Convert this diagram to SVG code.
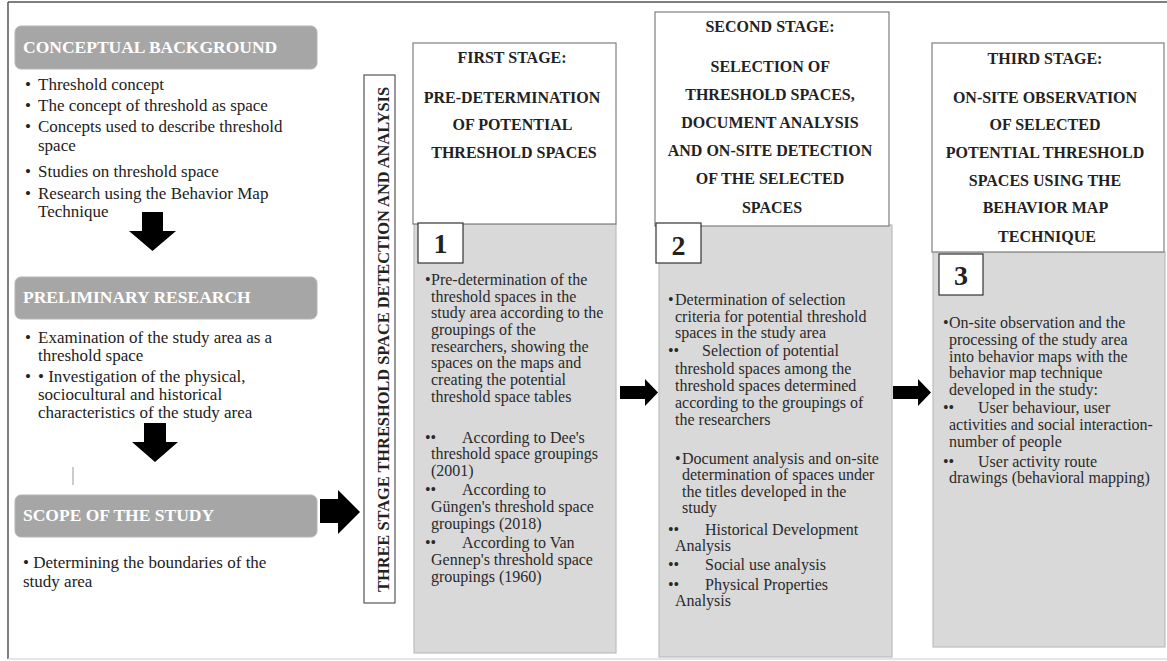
<svg xmlns="http://www.w3.org/2000/svg" width="1167" height="661" viewBox="0 0 1167 661">
  <style>
    .frame { fill: none; stroke: #555; stroke-width: 1.5; }
    .hdr { fill: #a6a6a6; stroke: #b5b5b5; stroke-width: 1; }
    .hdr-t { font-family: "Liberation Serif", serif; font-weight: bold; font-size: 17.5px; fill: #fff; }
    .lt { font-family: "Liberation Serif", serif; font-size: 17px; fill: #222; }
    .stage { fill: #fff; stroke: #7f7f7f; stroke-width: 1.2; }
    .stage-t { font-family: "Liberation Serif", serif; font-weight: bold; font-size: 16px; fill: #222; text-anchor: middle; }
    .body { fill: #d9d9d9; stroke: #bdbdbd; stroke-width: 1.2; }
    .bt { font-family: "Liberation Serif", serif; font-size: 16px; fill: #2a2a2a; }
    .num { fill: #fff; stroke: #333; stroke-width: 1.2; }
    .num-t { font-family: "Liberation Serif", serif; font-weight: bold; font-size: 28px; fill: #222; text-anchor: middle; }
    .vbox { fill: #fff; stroke: #555; stroke-width: 1.2; }
    .vt { font-family: "Liberation Serif", serif; font-weight: bold; font-size: 16.5px; fill: #222; text-anchor: middle; }
    .arrow { fill: #000; }
  </style>

  <!-- outer frame -->
  <line class="frame" x1="8" y1="2" x2="1167" y2="2"/>
  <line class="frame" x1="8" y1="2" x2="8" y2="659"/>
  <line x1="8" y1="659" x2="1167" y2="659" stroke="#ddd" stroke-width="1.5"/>

  <!-- left column -->
  <g id="conceptual-background">
    <rect class="hdr" x="15" y="26" width="302" height="43" rx="6"/>
    <text class="hdr-t" x="23" y="53">CONCEPTUAL BACKGROUND</text>
    <text class="lt">
      <tspan x="25" y="90">•</tspan><tspan x="38" y="90">Threshold concept</tspan>
      <tspan x="25" y="111">•</tspan><tspan x="38" y="111">The concept of threshold as space</tspan>
      <tspan x="25" y="131.5">•</tspan><tspan x="38" y="131.5">Concepts used to describe threshold</tspan>
      <tspan x="38" y="151">space</tspan>
      <tspan x="25" y="176.5">•</tspan><tspan x="38" y="176.5">Studies on threshold space</tspan>
      <tspan x="25" y="198.5">•</tspan><tspan x="38" y="198.5">Research using the Behavior Map</tspan>
      <tspan x="38" y="217">Technique</tspan>
    </text>
  </g>

  <g id="preliminary-research">
    <rect class="hdr" x="15" y="277" width="302" height="42" rx="6"/>
    <text class="hdr-t" x="23" y="303">PRELIMINARY RESEARCH</text>
    <text class="lt">
      <tspan x="25" y="343">•</tspan><tspan x="38" y="343">Examination of the study area as a</tspan>
      <tspan x="38" y="361">threshold space</tspan>
      <tspan x="25" y="382">•</tspan><tspan x="38" y="382">• Investigation of the physical,</tspan>
      <tspan x="38" y="400">sociocultural and historical</tspan>
      <tspan x="38" y="418">characteristics of the study area</tspan>
    </text>
  </g>

  <g id="scope-of-study">
    <line x1="73" y1="467" x2="73" y2="485" stroke="#999" stroke-width="1"/>
    <rect class="hdr" x="15" y="495" width="302" height="42" rx="6"/>
    <text class="hdr-t" x="23" y="521">SCOPE OF THE STUDY</text>
    <text class="lt">
      <tspan x="23" y="568">• Determining the boundaries of the</tspan>
      <tspan x="23" y="587">study area</tspan>
    </text>
  </g>

  <!-- vertical title -->
  <g id="three-stage">
    <rect class="vbox" x="364" y="75" width="31" height="528"/>
    <text class="vt" transform="translate(388.5 339.5) rotate(-90)" textLength="505" lengthAdjust="spacingAndGlyphs">THREE STAGE THRESHOLD SPACE DETECTION AND ANALYSIS</text>
  </g>

  <!-- stage 1 -->
  <g id="stage-1">
    <rect class="body" x="414" y="224" width="202" height="429"/>
    <rect class="stage" x="413" y="43" width="203" height="181"/>
    <text class="stage-t">
      <tspan x="514" y="63">FIRST STAGE:</tspan>
      <tspan x="514" y="103">PRE-DETERMINATION</tspan>
      <tspan x="514" y="130">OF POTENTIAL</tspan>
      <tspan x="514" y="158">THRESHOLD SPACES</tspan>
    </text>
    <rect class="num" x="418" y="223" width="45" height="40"/>
    <text class="num-t" x="440.5" y="253">1</text>
    <text class="bt">
      <tspan x="425" y="285">•</tspan><tspan x="431" y="285">Pre-determination of the</tspan>
      <tspan x="431" y="302">threshold spaces in the</tspan>
      <tspan x="431" y="318">study area according to the</tspan>
      <tspan x="431" y="335">groupings of the</tspan>
      <tspan x="431" y="352">researchers, showing the</tspan>
      <tspan x="431" y="368">spaces on the maps and</tspan>
      <tspan x="431" y="385">creating the potential</tspan>
      <tspan x="431" y="402">threshold space tables</tspan>
      <tspan x="425" y="443">••</tspan><tspan x="462" y="443">According to Dee's</tspan>
      <tspan x="431" y="459">threshold space groupings</tspan>
      <tspan x="431" y="476">(2001)</tspan>
      <tspan x="425" y="495">••</tspan><tspan x="462" y="495">According to</tspan>
      <tspan x="431" y="512">Güngen's threshold space</tspan>
      <tspan x="431" y="529">groupings (2018)</tspan>
      <tspan x="425" y="548">••</tspan><tspan x="462" y="548">According to Van</tspan>
      <tspan x="431" y="565">Gennep's threshold space</tspan>
      <tspan x="431" y="582">groupings (1960)</tspan>
    </text>
  </g>

  <!-- stage 2 -->
  <g id="stage-2">
    <rect class="body" x="659" y="225" width="233" height="432"/>
    <rect class="stage" x="655" y="12" width="234" height="214"/>
    <text class="stage-t">
      <tspan x="772" y="32">SECOND STAGE:</tspan>
      <tspan x="772" y="72">SELECTION OF</tspan>
      <tspan x="772" y="100">THRESHOLD SPACES,</tspan>
      <tspan x="772" y="128">DOCUMENT ANALYSIS</tspan>
      <tspan x="772" y="156">AND ON-SITE DETECTION</tspan>
      <tspan x="772" y="184">OF THE SELECTED</tspan>
      <tspan x="772" y="213">SPACES</tspan>
    </text>
    <rect class="num" x="656" y="223" width="45" height="40"/>
    <text class="num-t" x="678.5" y="255">2</text>
    <text class="bt">
      <tspan x="668" y="305">•</tspan><tspan x="675" y="305">Determination of selection</tspan>
      <tspan x="675" y="322">criteria for potential threshold</tspan>
      <tspan x="675" y="338">spaces in the study area</tspan>
      <tspan x="668" y="356">••</tspan><tspan x="702" y="356">Selection of potential</tspan>
      <tspan x="675" y="374">threshold spaces among the</tspan>
      <tspan x="675" y="391">threshold spaces determined</tspan>
      <tspan x="675" y="408">according to the groupings of</tspan>
      <tspan x="675" y="425">the researchers</tspan>
      <tspan x="675" y="464">•</tspan><tspan x="682" y="464">Document analysis and on-site</tspan>
      <tspan x="682" y="480">determination of spaces under</tspan>
      <tspan x="682" y="497">the titles developed in the</tspan>
      <tspan x="682" y="513">study</tspan>
      <tspan x="668" y="535">••</tspan><tspan x="705" y="535">Historical Development</tspan>
      <tspan x="675" y="551">Analysis</tspan>
      <tspan x="668" y="570">••</tspan><tspan x="705" y="570">Social use analysis</tspan>
      <tspan x="668" y="590">••</tspan><tspan x="705" y="590">Physical Properties</tspan>
      <tspan x="675" y="606">Analysis</tspan>
    </text>
  </g>

  <!-- stage 3 -->
  <g id="stage-3">
    <rect class="body" x="933" y="252" width="232" height="395"/>
    <rect class="stage" x="932" y="43" width="232" height="209"/>
    <text class="stage-t">
      <tspan x="1047" y="64">THIRD STAGE:</tspan>
      <tspan x="1047" y="103">ON-SITE OBSERVATION</tspan>
      <tspan x="1047" y="130">OF SELECTED</tspan>
      <tspan x="1047" y="158">POTENTIAL  THRESHOLD</tspan>
      <tspan x="1047" y="186">SPACES USING THE</tspan>
      <tspan x="1047" y="213">BEHAVIOR MAP</tspan>
      <tspan x="1047" y="242">TECHNIQUE</tspan>
    </text>
    <rect class="num" x="939" y="254" width="44" height="41"/>
    <text class="num-t" x="961" y="285">3</text>
    <text class="bt">
      <tspan x="943" y="328">•</tspan><tspan x="949" y="328">On-site observation and the</tspan>
      <tspan x="949" y="345">processing of the study area</tspan>
      <tspan x="949" y="362">into behavior maps with the</tspan>
      <tspan x="949" y="378">behavior map technique</tspan>
      <tspan x="949" y="395">developed in the study:</tspan>
      <tspan x="943" y="413">••</tspan><tspan x="978" y="413">User behaviour, user</tspan>
      <tspan x="949" y="430">activities and social interaction-</tspan>
      <tspan x="949" y="447">number of people</tspan>
      <tspan x="943" y="467">••</tspan><tspan x="978" y="467">User activity route</tspan>
      <tspan x="949" y="483">drawings (behavioral mapping)</tspan>
    </text>
  </g>

  <!-- block arrows -->
  <g id="connectors">
    <polygon class="arrow" points="142,212 163,212 163,231 176,231 152.5,251 129,231 142,231"/>
    <polygon class="arrow" points="144,423 166,423 166,442 178,442 155,462 132,442 144,442"/>
    <polygon class="arrow" points="320,499 338,499 338,490 360,512 338,534 338,523 320,523"/>
    <polygon class="arrow" points="620,386 645,386 645,379 658,392.5 645,406 645,399 620,399"/>
    <polygon class="arrow" points="893,386 918,386 918,379 931,392.5 918,406 918,399 893,399"/>
  </g>
</svg>
